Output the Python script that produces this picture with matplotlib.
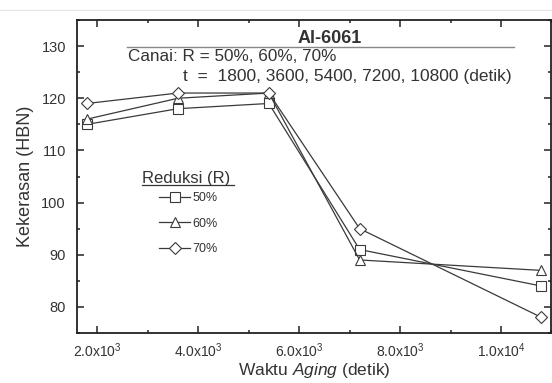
import numpy as np
import matplotlib
matplotlib.use('Agg')
import matplotlib.pyplot as plt
from matplotlib.lines import Line2D
from matplotlib.ticker import MultipleLocator, FixedLocator, FixedFormatter

plt.rcParams['font.family'] = ['Liberation Sans', 'DejaVu Sans']
plt.rcParams['mathtext.fontset'] = 'custom'
plt.rcParams['mathtext.rm'] = 'Liberation Sans'
plt.rcParams['mathtext.it'] = 'Liberation Sans:italic'

# data
waktu = [1800, 3600, 5400, 7200, 10800]
reduksi = ['50%', '60%', '70%']
hbn_50 = [115, 118, 119, 91, 84]
hbn_60 = [116, 120, 121, 89, 87]
hbn_70 = [119, 121, 121, 95, 78]
markers = ['s', '^', 'D']

xticks = [2000, 4000, 6000, 8000, 10000]
xlabels = ['2.0x10$^3$', '4.0x10$^3$', '6.0x10$^3$', '8.0x10$^3$', '1.0x10$^4$']

warna = '#3a3a3a'

fig = plt.figure(figsize=(5.52, 3.83), dpi=100)
ax = fig.add_axes([77 / 552, 50 / 383, 1.0 - 77 / 552 - 0.001, 313 / 383])

lines = []
for y, lab, m in zip([hbn_50, hbn_60, hbn_70], reduksi, markers):
    ms = 6.5 if m == 'D' else 7
    l, = ax.plot(waktu, y, color=warna, lw=0.9, marker=m, markersize=ms,
                 markerfacecolor='white', markeredgecolor=warna,
                 markeredgewidth=0.8, label=lab)
    lines.append(l)

ax.set_xlim(1600, 11000)
ax.set_ylim(75, 135)

ax.xaxis.set_major_locator(FixedLocator(xticks))
ax.xaxis.set_major_formatter(FixedFormatter(xlabels))
ax.xaxis.set_minor_locator(MultipleLocator(1000))
ax.yaxis.set_major_locator(MultipleLocator(10))
ax.yaxis.set_minor_locator(MultipleLocator(5))
ax.set_yticks([80, 90, 100, 110, 120, 130])

ax.tick_params(which='both', direction='in', top=True, right=True,
               color='#222222', width=1.1, labelcolor='#333333')
ax.tick_params(which='major', length=5)
ax.tick_params(which='minor', length=2.5)
ax.tick_params(axis='x', labelsize=10, pad=6)
ax.tick_params(axis='y', labelsize=10.5, pad=8)
for s in ax.spines.values():
    s.set_linewidth(1.3)
    s.set_color('#222222')

ax.set_xlabel(r'Waktu $\mathit{Aging}$ (detik)', fontsize=12.5, color='#333333', labelpad=1)
ax.set_ylabel('Kekerasan (HBN)', fontsize=13, color='#333333', labelpad=5)

# judul dan keterangan
ax.text(0.533, 0.914, 'Al-6061', transform=ax.transAxes, fontsize=13, fontweight='bold',
        color='#333333', ha='center', va='bottom')
ax.plot([0.105, 0.921], [0.914, 0.914], transform=ax.transAxes, color='#888888', lw=1.0)
ax.text(0.108, 0.882, 'Canai: R = 50%, 60%, 70%', transform=ax.transAxes,
        fontsize=12.3, color='#333333', ha='left', va='center')
ax.text(0.223, 0.818, 't  =  1800, 3600, 5400, 7200, 10800 (detik)', transform=ax.transAxes,
        fontsize=12.5, color='#333333', ha='left', va='center')

# legenda
fig.text(142 / 552, 1 - 178 / 383, 'Reduksi (R)', fontsize=12, color='#333333',
         ha='left', va='center')
fig.add_artist(Line2D([142 / 552, 234 / 552], [1 - 185 / 383, 1 - 185 / 383],
                      color='#333333', lw=0.9))
ax.legend(handles=lines, loc='upper left', bbox_to_anchor=(159 / 552, 1 - 192 / 383),
          bbox_transform=fig.transFigure, frameon=False, fontsize=9,
          handlelength=2.5, handletextpad=0.2, labelspacing=1.1,
          borderpad=0, borderaxespad=0, labelcolor='#333333')

# garis tipis di atas
fig.add_artist(Line2D([0, 1], [1 - 10 / 383, 1 - 10 / 383], color='#e6e6e6', lw=1))

fig.savefig('out.png', dpi=100)
